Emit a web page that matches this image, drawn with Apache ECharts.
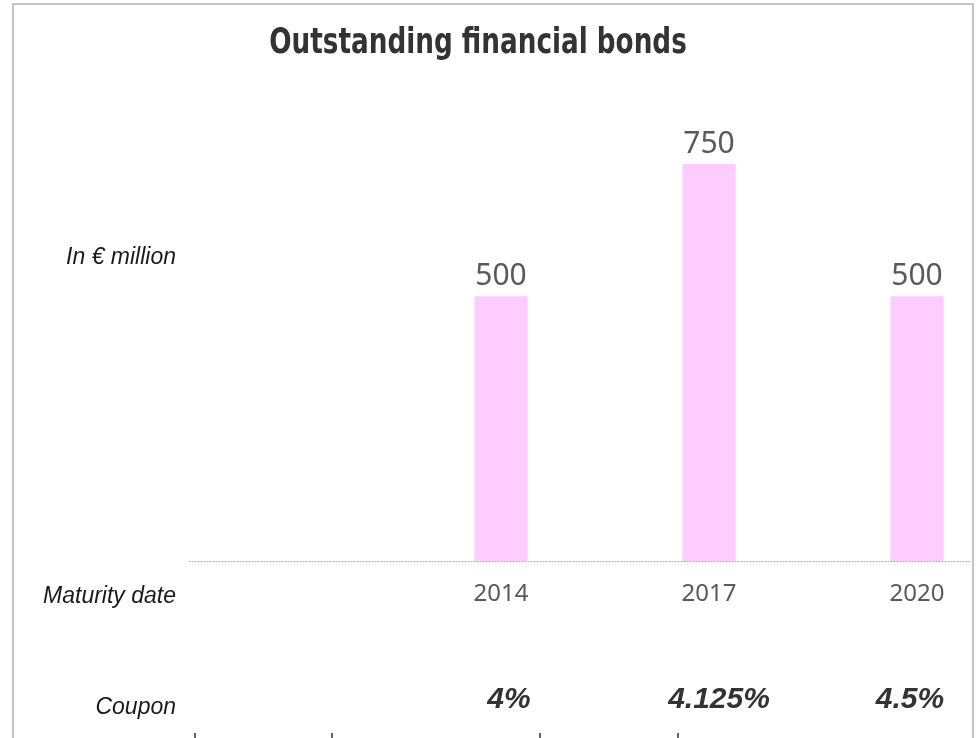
<!DOCTYPE html>
<html>
<head>
<meta charset="utf-8">
<script src="https://cdn.jsdelivr.net/npm/echarts@6/dist/echarts.min.js"></script>
<style>
  html, body { margin: 0; padding: 0; background: #ffffff; overflow: hidden; width: 978px; height: 738px; }
  #chart { width: 1021px; height: 738px; }
</style>
</head>
<body>
<div id="chart"></div>
<script>
// ---- data ----
const categories = ['', '2014', '2017', '2020'];
const amounts = [null, 500, 750, 500];
const coupons = ['', '4%', '4.125%', '4.5%'];
const titleText = 'Outstanding financial bonds';
const unitLabel = 'In € million';
const maturityLabel = 'Maturity date';
const couponLabel = 'Coupon';

// small per-label horizontal nudges of the coupon texts (style only)
const couponPads = [[0, 0, 0, 0], [0, 0, 0, 16], [0, 0, 0, 20], [0, 14, 0, 0]];

const chart = echarts.init(document.getElementById('chart'), null, { renderer: 'canvas' });

const sideFont = '"Liberation Sans", Arial, sans-serif';
const numFont = '"Noto Sans", "DejaVu Sans", sans-serif';

chart.setOption({
  backgroundColor: '#ffffff',
  animation: false,
  grid: { left: 189, right: 0, top: 164, bottom: 177, containLabel: false },
  xAxis: [
    {
      type: 'category',
      data: categories,
      position: 'bottom',
      axisLine: { show: true, lineStyle: { color: '#a6a6a6', type: [1, 2], width: 1 } },
      axisTick: { show: false },
      axisLabel: { margin: 21, fontFamily: numFont, fontSize: 24, color: '#595959' }
    },
    {
      type: 'category',
      data: coupons.map((c, i) => ({ value: c, textStyle: { padding: couponPads[i] } })),
      position: 'bottom',
      offset: 0,
      axisLine: { show: false },
      axisTick: { show: false },
      axisLabel: {
        margin: 124,
        fontFamily: sideFont,
        fontStyle: 'italic',
        fontWeight: 'bold',
        fontSize: 30,
        color: '#333333'
      }
    }
  ],
  yAxis: { type: 'value', min: 0, max: 750, show: false, splitLine: { show: false } },
  series: [
    {
      type: 'bar',
      data: amounts,
      barWidth: 53,
      itemStyle: { color: '#ffccff' },
      label: {
        show: true,
        position: 'top',
        distance: 5,
        fontFamily: numFont,
        fontSize: 30,
        color: '#595959'
      }
    }
  ],
  graphic: [
    {
      type: 'text', x: 478, y: 44, scaleX: 0.834, originX: 0, z: 50,
      style: {
        text: titleText, align: 'center', verticalAlign: 'middle',
        font: 'bold 35px "DejaVu Sans Condensed", "DejaVu Sans", sans-serif', fill: '#333333'
      }
    },
    { type: 'text', x: 176, y: 258, style: { text: unitLabel, align: 'right', verticalAlign: 'middle', font: 'italic 23px ' + sideFont, fill: '#1a1a1a' } },
    { type: 'text', x: 176, y: 597, style: { text: maturityLabel, align: 'right', verticalAlign: 'middle', font: 'italic 23px ' + sideFont, fill: '#1a1a1a' } },
    { type: 'text', x: 176, y: 708, style: { text: couponLabel, align: 'right', verticalAlign: 'middle', font: 'italic 23px ' + sideFont, fill: '#1a1a1a' } },
    { type: 'line', shape: { x1: 195, y1: 733, x2: 195, y2: 738 }, style: { stroke: '#333', lineWidth: 1.5 } },
    { type: 'line', shape: { x1: 332, y1: 733, x2: 332, y2: 738 }, style: { stroke: '#333', lineWidth: 1.5 } },
    { type: 'line', shape: { x1: 540, y1: 733, x2: 540, y2: 738 }, style: { stroke: '#333', lineWidth: 1.5 } },
    { type: 'line', shape: { x1: 678, y1: 733, x2: 678, y2: 738 }, style: { stroke: '#333', lineWidth: 1.5 } },
    { type: 'rect', z: 99, shape: { x: 971, y: 0, width: 60, height: 738 }, style: { fill: '#ffffff' } },
    { type: 'rect', z: 100, shape: { x: 13, y: 4, width: 960, height: 800 }, style: { fill: 'none', stroke: '#c4c4c4', lineWidth: 2 } }
  ]
});
</script>
</body>
</html>
